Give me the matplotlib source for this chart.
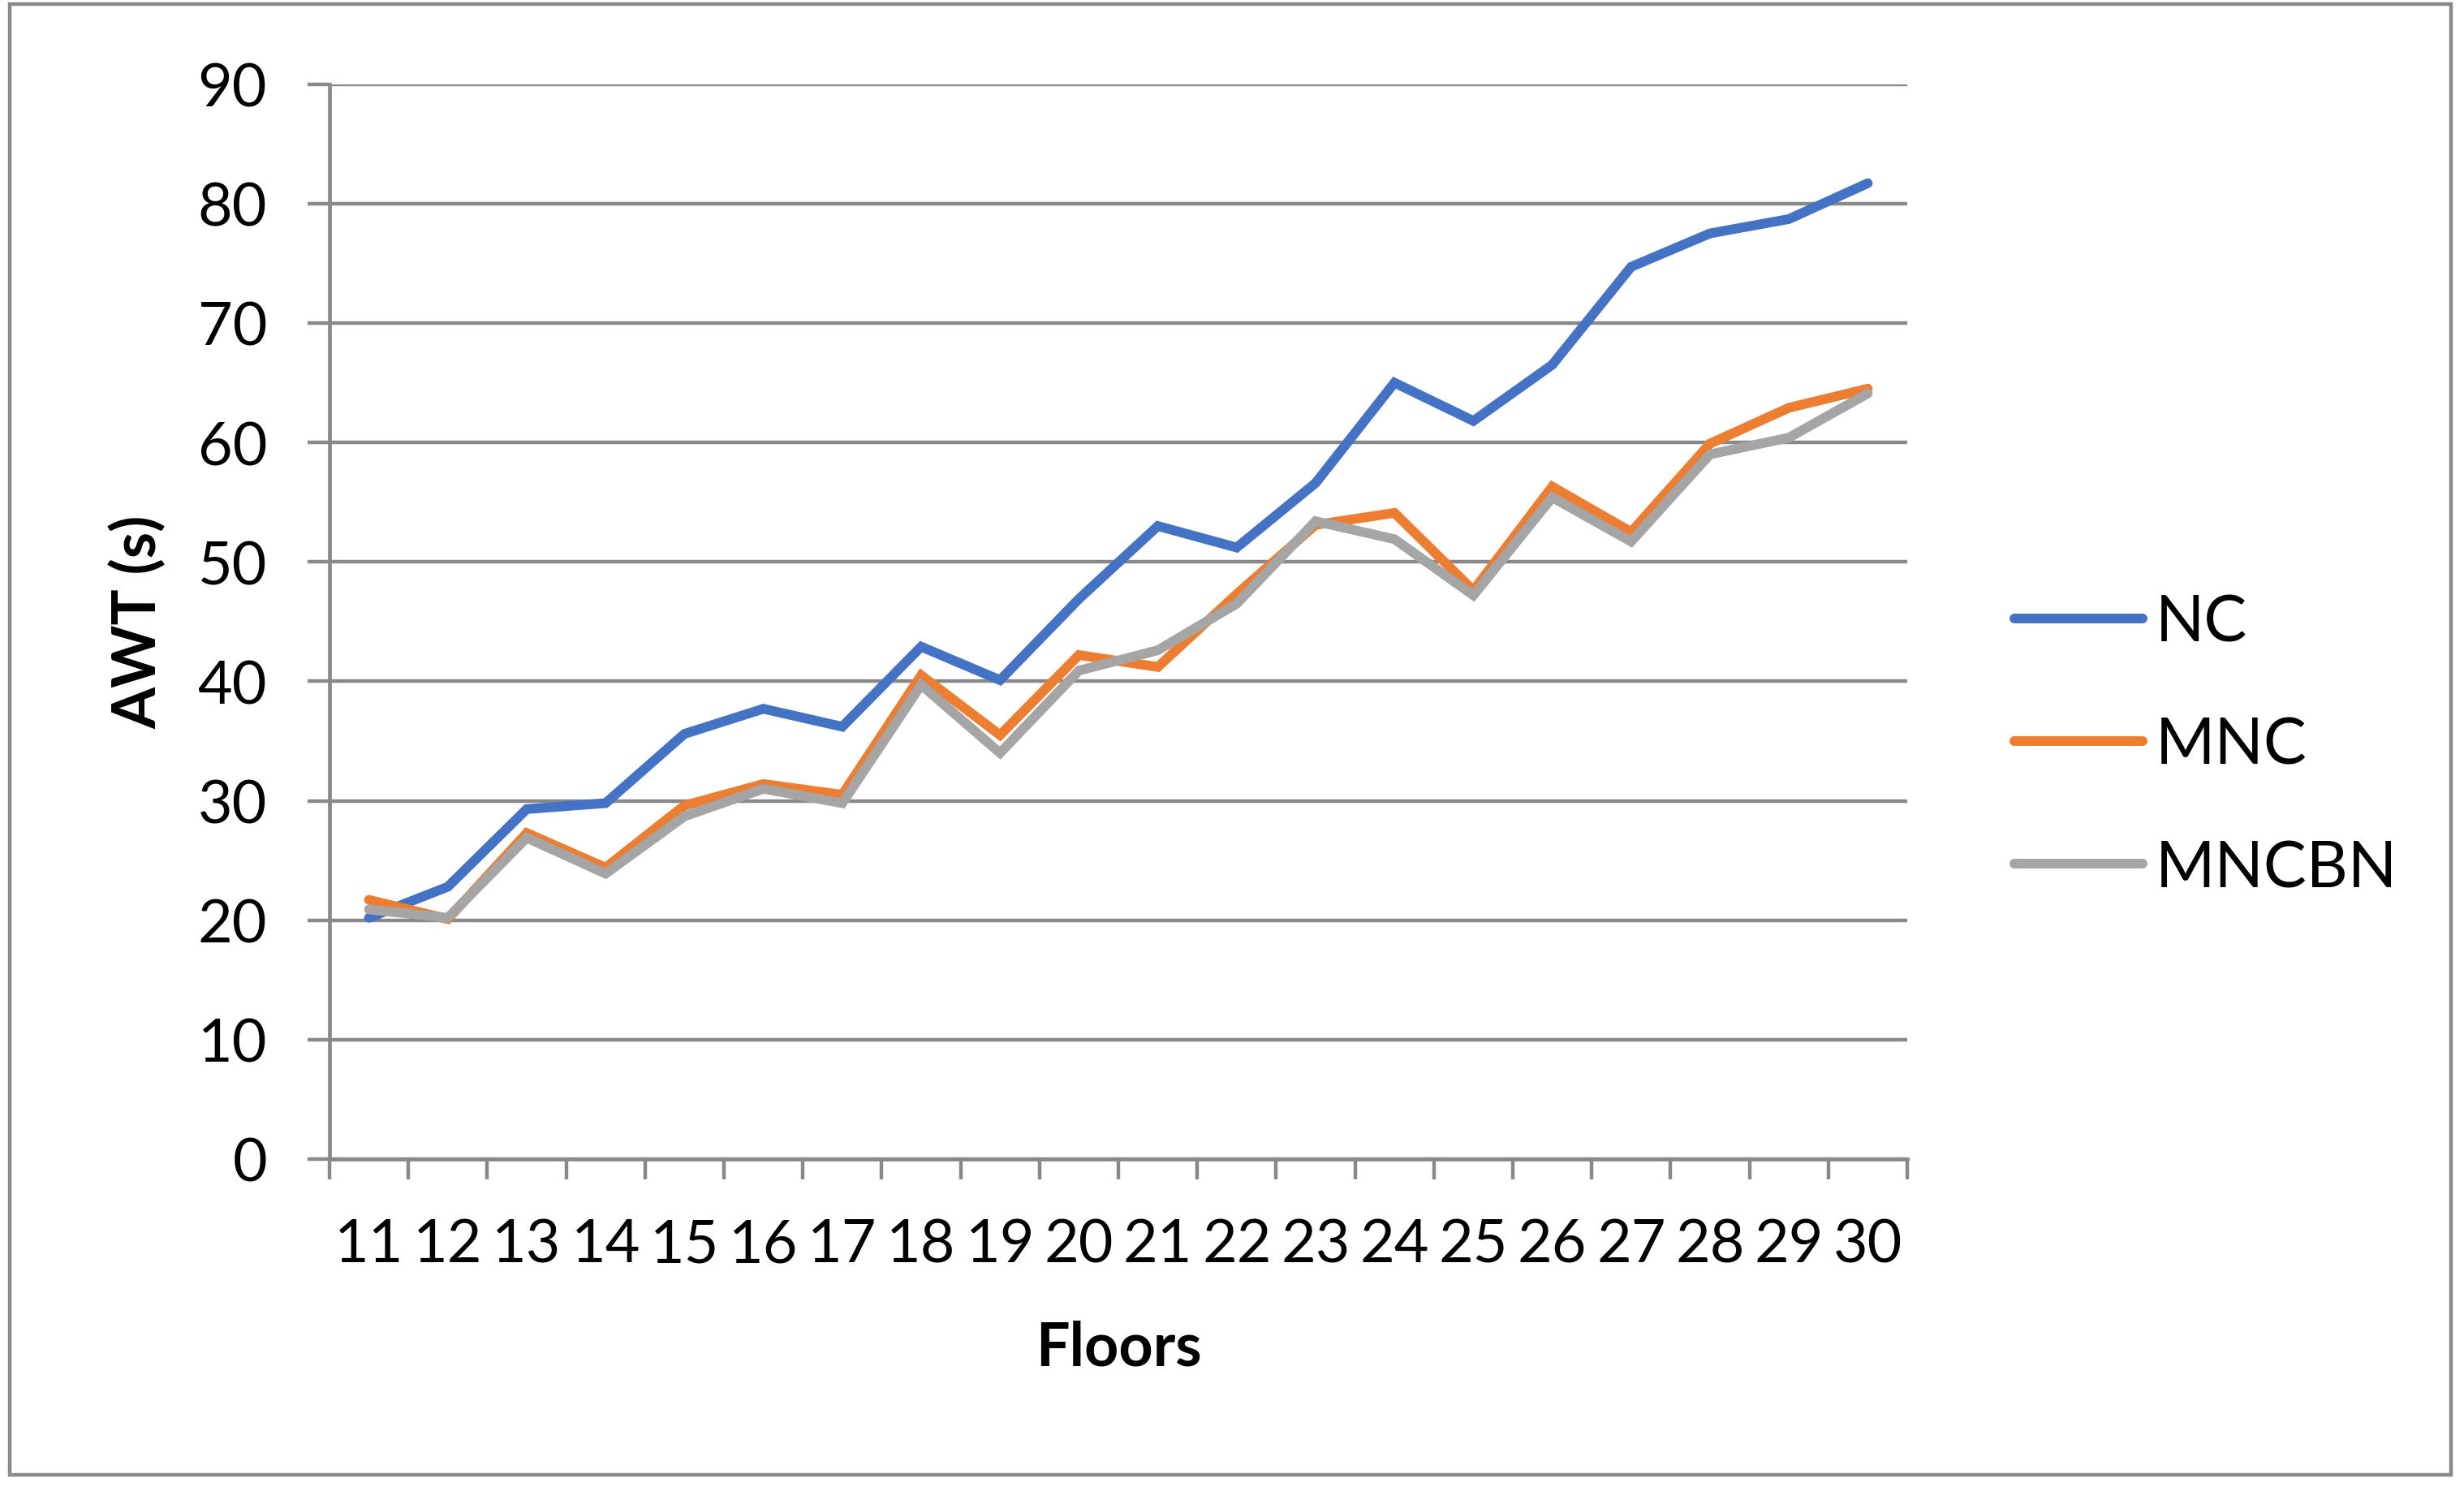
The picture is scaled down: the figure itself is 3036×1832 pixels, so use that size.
import numpy as np
import matplotlib.pyplot as plt
from matplotlib.patches import Rectangle

plt.rcParams['font.family'] = ['Lato', 'DejaVu Sans']

floors = list(range(11, 31))
nc = [20.2, 22.8, 29.3, 29.8, 35.6, 37.7, 36.2, 42.9, 40.1, 46.9,
      53.0, 51.2, 56.6, 65.0, 61.8, 66.5, 74.7, 77.5, 78.7, 81.7]
mnc = [21.7, 20.1, 27.3, 24.4, 29.6, 31.4, 30.5, 40.5, 35.5, 42.2,
       41.2, 47.3, 53.1, 54.1, 47.6, 56.3, 52.5, 59.9, 62.9, 64.5]
mncbn = [20.9, 20.2, 26.9, 23.9, 28.7, 31.0, 29.8, 39.7, 34.0, 40.9,
         42.6, 46.5, 53.4, 51.9, 47.2, 55.4, 51.7, 59.0, 60.4, 64.1]
series = [('NC', nc, '#4472C4'), ('MNC', mnc, '#ED7D31'), ('MNCBN', mncbn, '#A5A5A5')]

W, H, DPI = 3036, 1833, 200
fig = plt.figure(figsize=(W / DPI, H / DPI), dpi=DPI)
gray = '#898989'

# plot area in pixels
x0, x1, ytop, ybot = 406, 2350, 104.6, 1429
ax = fig.add_axes([x0 / W, 1 - ybot / H, (x1 - x0) / W, (ybot - ytop) / H])

for name, vals, col in series:
    ax.plot(floors, vals, color=col, lw=4.3, label=name,
            solid_capstyle='round', solid_joinstyle='miter')

ax.set_xlim(10.5, 30.5)
ax.set_ylim(0, 90)
ax.set_yticks(np.arange(0, 91, 10))
ax.set_xticks(np.arange(10.5, 31, 1))
ax.set_xticks(floors, minor=True)
ax.set_xticklabels([str(f) for f in floors], minor=True)
ax.tick_params(axis='x', which='major', length=9, width=1.6, color=gray,
               labelbottom=False, direction='out')
ax.tick_params(axis='x', which='minor', length=0, pad=26, labelsize=26.5)
ax.tick_params(axis='y', length=9.7, width=1.6, color=gray, pad=18, labelsize=26.5)
ax.grid(axis='y', color=gray, lw=1.6)
ax.set_axisbelow(True)
for s in ['top', 'right']:
    ax.spines[s].set_visible(False)
for s in ['left', 'bottom']:
    ax.spines[s].set_color(gray)
    ax.spines[s].set_linewidth(1.7)

ax.set_xlabel('Floors', fontsize=26.5, fontweight='bold')
ax.xaxis.label.set_verticalalignment('center')
ax.xaxis.set_label_coords(0.5, -0.175)
ax.set_ylabel('AWT (s)', fontsize=26.5, fontweight='bold')
ax.yaxis.label.set_verticalalignment('center')
ax.yaxis.set_label_coords(-0.121, 0.5)

fig.legend(loc='center left', bbox_to_anchor=(2482 / W, 1 - 920 / H),
           frameon=False, fontsize=28.5, handlelength=2.0, handletextpad=0.2,
           labelspacing=1.0, borderaxespad=0, borderpad=0)

fig.patches.append(Rectangle((12 / W, 1 - 1818 / H), (3020 - 12) / W, (1818 - 6) / H,
                             transform=fig.transFigure, fill=False,
                             edgecolor=gray, lw=1.6))

fig.savefig('out.png', dpi=DPI)
